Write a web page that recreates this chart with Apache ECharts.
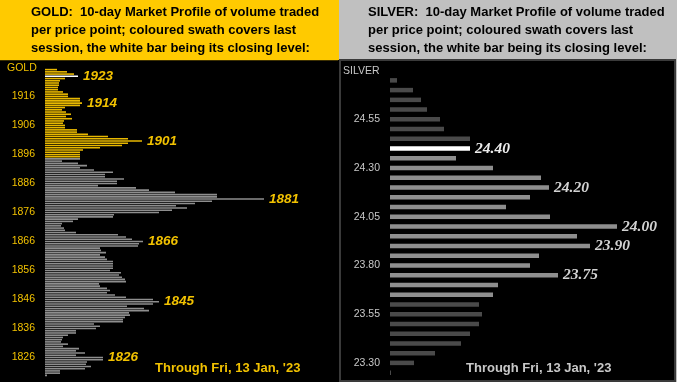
<!DOCTYPE html>
<html><head><meta charset="utf-8">
<script src="https://cdn.jsdelivr.net/npm/echarts@6/dist/echarts.min.js"></script>
<style>html,body{margin:0;padding:0;background:#000}#c{width:677px;height:382px}</style>
</head><body><div id="c"></div>
<script>
// ---------- GOLD ----------
const goldTopPrice = 1925.3;          // price level of the top bar
const goldStep = 10 / 13;             // price step between bars
const goldVolume = [
  12,22,29,33,20,15,14,14,13,13,18,23,23,35,35,37,35,20,17,21,
  26,21,27,19,18,20,20,32,32,43,63,83,97,83,77,55,38,35,35,35,
  35,17,33,42,35,49,68,60,60,79,72,72,53,91,104,130,172,172,219,167,
  150,131,142,127,114,69,68,33,28,17,16,19,20,31,73,81,87,98,94,93,
  55,56,61,55,60,62,68,68,68,68,65,76,74,77,80,81,54,55,62,65,
  62,70,81,108,114,108,82,99,104,84,85,80,78,78,49,55,51,31,31,23,
  18,17,16,23,18,34,31,40,31,58,58,42,41,46,40,15,15,2
];
const goldTicks = [1916,1906,1896,1886,1876,1866,1856,1846,1836,1826];
const goldNotes = [1923,1914,1901,1881,1866,1845,1826];
const goldClose = 1923;
const goldSwathLow = 1895;

// ---------- SILVER ----------
const silverPrices = ['24.75','24.70','24.65','24.60','24.55','24.50','24.45','24.40','24.35','24.30',
  '24.25','24.20','24.15','24.10','24.05','24.00','23.95','23.90','23.85','23.80',
  '23.75','23.70','23.65','23.60','23.55','23.50','23.45','23.40','23.35','23.30','23.25'];
const silverVolume = [7,23,31,37,50,54,80,80,66,103,151,159,140,116,160,227,187,200,149,140,
  168,108,103,89,92,89,80,71,45,24,1];
const silverTicks = ['24.55','24.30','24.05','23.80','23.55','23.30'];
const silverNotes = ['24.40','24.20','24.00','23.90','23.75'];
const silverClose = '24.40';
const silverSwath = [23.65, 24.35];

const FONT = "'Liberation Sans', Arial, sans-serif";
const YEL = '#f2c200';

const goldPrices = goldVolume.map((_, i) => (goldTopPrice - i * goldStep).toFixed(2));
const idxOfGold = p => Math.round((goldTopPrice - p) / goldStep);
const goldTickIdx = {}; goldTicks.forEach(t => goldTickIdx[idxOfGold(t)] = String(t));
const goldNoteIdx = {}; goldNotes.forEach(t => goldNoteIdx[idxOfGold(t)] = String(t));
const goldCloseIdx = idxOfGold(goldClose);

const goldData = goldVolume.map((v, i) => {
  const p = parseFloat(goldPrices[i]);
  let color = p >= goldSwathLow ? '#e8b800' : '#8e8e8e';
  if (i === goldCloseIdx) color = '#ffffff';
  const d = { value: v, itemStyle: { color } };
  if (goldNoteIdx[i]) d.label = { show: true, position: 'right', distance: 5, formatter: goldNoteIdx[i],
    color: YEL, fontSize: 13.5, fontWeight: 'bold', fontStyle: 'italic', fontFamily: FONT };
  return d;
});

const silverData = silverVolume.map((v, i) => {
  const p = parseFloat(silverPrices[i]);
  let color = (p >= silverSwath[0] - 1e-6 && p <= silverSwath[1] + 1e-6) ? '#8e8e8e' : '#4a4a4a';
  if (silverPrices[i] === silverClose) color = '#ffffff';
  const d = { value: v, itemStyle: { color } };
  if (silverNotes.includes(silverPrices[i])) d.label = { show: true, position: 'right', distance: 5,
    formatter: silverPrices[i], color: silverPrices[i] === silverClose ? '#ececec' : '#d2d2d2',
    fontSize: 15.5, fontWeight: 'bold', fontStyle: 'italic', fontFamily: "'Liberation Serif', 'Times New Roman', serif" };
  return d;
});

const chart = echarts.init(document.getElementById('c'), null, { renderer: 'canvas' });
const hdr = (x, y, t, col) => ({ type: 'text', x, y, z: 10, style: { text: t, fill: col || '#000',
  font: "bold 13px " + FONT, textVerticalAlign: 'middle' } });

chart.setOption({
  animation: false,
  backgroundColor: '#000',
  graphic: [
    { type: 'rect', shape: { x: 0, y: 0, width: 339, height: 60 }, style: { fill: '#ffca00' }, z: -5 },
    { type: 'rect', shape: { x: 0, y: 60, width: 338, height: 322 }, style: { fill: '#000' }, z: -5 },
    { type: 'rect', shape: { x: 0, y: 60, width: 338, height: 1 }, style: { fill: '#3d3000' }, z: -4 },
    { type: 'rect', shape: { x: 339, y: 0, width: 338, height: 382 }, style: { fill: '#c0c0c0' }, z: -5 },
    { type: 'rect', shape: { x: 339, y: 59, width: 337, height: 323 }, style: { fill: '#3a3a3a' }, z: -4 },
    { type: 'rect', shape: { x: 341, y: 61, width: 333, height: 319 }, style: { fill: '#000' }, z: -3 },
    hdr(31, 12, 'GOLD:  10-day Market Profile of volume traded'),
    hdr(31, 30, 'per price point; coloured swath covers last'),
    hdr(31, 48, 'session, the white bar being its closing level:'),
    hdr(368, 12, 'SILVER:  10-day Market Profile of volume traded'),
    hdr(368, 30, 'per price point; coloured swath covers last'),
    hdr(368, 48, 'session, the white bar being its closing level:'),
    { type: 'text', x: 7, y: 68, z: 10, style: { text: 'GOLD', fill: YEL, font: '10.5px ' + FONT, textVerticalAlign: 'middle' } },
    { type: 'text', x: 343, y: 71, z: 10, style: { text: 'SILVER', fill: '#c8c8c8', font: '10.5px ' + FONT, textVerticalAlign: 'middle' } },
    { type: 'text', x: 155, y: 368, z: 10, style: { text: "Through Fri, 13 Jan, '23", fill: YEL, font: 'bold 13px ' + FONT, textVerticalAlign: 'middle' } },
    { type: 'text', x: 466, y: 368, z: 10, style: { text: "Through Fri, 13 Jan, '23", fill: '#c8c8c8', font: 'bold 13px ' + FONT, textVerticalAlign: 'middle' } }
  ],
  grid: [
    { left: 45, top: 68.5, width: 290, height: 308 },
    { left: 390, top: 75.5, width: 285, height: 302 }
  ],
  xAxis: [
    { type: 'value', gridIndex: 0, min: 0, max: 290, show: false },
    { type: 'value', gridIndex: 1, min: 0, max: 285, show: false }
  ],
  yAxis: [
    { type: 'category', gridIndex: 0, inverse: true, data: goldPrices,
      axisLine: { show: false }, axisTick: { show: false }, splitLine: { show: false },
      axisLabel: { interval: (i) => !!goldTickIdx[i], formatter: (v, i) => goldTickIdx[i] || '',
        color: YEL, fontSize: 10.5, fontFamily: FONT, margin: 10 } },
    { type: 'category', gridIndex: 1, inverse: true, data: silverPrices,
      axisLine: { show: false }, axisTick: { show: false }, splitLine: { show: false },
      axisLabel: { interval: (i, v) => silverTicks.includes(v), color: '#c8c8c8', fontSize: 10.5,
        fontFamily: FONT, margin: 10 } }
  ],
  series: [
    { type: 'bar', xAxisIndex: 0, yAxisIndex: 0, data: goldData, barWidth: 1.6, barGap: '0%' },
    { type: 'bar', xAxisIndex: 1, yAxisIndex: 1, data: silverData, barWidth: 4.5, barGap: '0%' }
  ]
});
</script></body></html>
